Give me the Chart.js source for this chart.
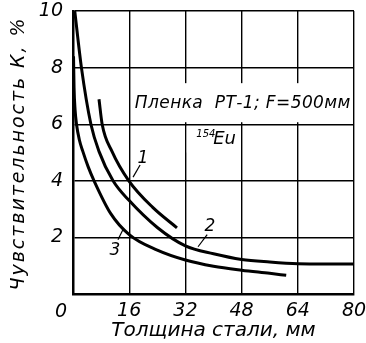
<!DOCTYPE html>
<html>
<head>
<meta charset="utf-8">
<script src="https://cdn.jsdelivr.net/npm/chart.js@4"></script>
<style>
  html, body { margin: 0; padding: 0; background: #fff; }
  #wrap { width: 366px; height: 343px; }
</style>
</head>
<body>
<div id="wrap"><canvas id="chart"></canvas></div>
<script>
// curve 1
const c1x = [7.4, 8.3, 11.1, 15.9, 22.7, 29.6];
const c1y = [6.88, 6.0, 5.04, 4.0, 3.06, 2.34];
// curve 2
const c2x = [0.5, 2.4, 5.1, 7.4, 11.4, 16, 24, 32, 40, 48, 56, 64, 72, 80];
const c2y = [10, 8, 6, 5.04, 4.0, 3.3, 2.35, 1.7, 1.42, 1.22, 1.13, 1.07, 1.06, 1.06];
// curve 3
const c3x = [0.15, 0.3, 0.6, 1.0, 1.8, 2.8, 4.3, 6.0, 10.7, 16, 24, 32, 40, 48, 56, 60.7];
const c3y = [8.4, 7.3, 6.5, 6.0, 5.45, 5.04, 4.5, 4.0, 2.85, 2.1, 1.55, 1.2, 0.98, 0.84, 0.73, 0.66];

const xTicks = [0, 16, 32, 48, 64, 80];
const yTicks = [0, 2, 4, 6, 8, 10];

// curve number labels and leader lines
const curveNames = ['1', '2', '3'];
const nameX = [19.9, 39.0, 11.9];
const nameY = [4.8, 2.37, 1.55];
const leadX1 = [17.1, 35.6, 12.8];
const leadY1 = [4.13, 1.67, 1.92];
const leadX2 = [19.1, 38.2, 14.2];
const leadY2 = [4.56, 2.1, 2.27];

const yTitle = 'Чувствительность К, %';
const filmText = 'Пленка  РТ-1; F=500мм';
const isoBase = 'Eu';
const isoMass = '154';

const FONT = "'DejaVu Sans', sans-serif";

function pts(xs, ys) {
  return xs.map((x, i) => ({x: x, y: ys[i]}));
}

const curveStyle = {
  borderColor: '#000',
  borderWidth: 3,
  pointRadius: 0,
  fill: false,
  cubicInterpolationMode: 'monotone'
};

const datasets = [
  Object.assign({data: pts(c1x, c1y)}, curveStyle),
  Object.assign({data: pts(c2x, c2y)}, curveStyle),
  Object.assign({data: pts(c3x, c3y)}, curveStyle)
];
// leader lines
curveNames.forEach((n, i) => {
  datasets.push({
    data: [{x: leadX1[i], y: leadY1[i]}, {x: leadX2[i], y: leadY2[i]}],
    borderColor: '#000', borderWidth: 1.2, pointRadius: 0, fill: false
  });
});

function fitText(ctx, text, x, y, target) {
  const w = ctx.measureText(text).width;
  ctx.letterSpacing = ((target - w) / text.length).toFixed(2) + 'px';
  ctx.fillText(text, x, y);
  ctx.letterSpacing = '0px';
}

const notes = {
  id: 'notes',
  beforeDatasetsDraw(chart) {
    const ctx = chart.ctx;
    const xs = chart.scales.x, ys = chart.scales.y;
    ctx.save();
    ctx.fillStyle = '#fff';
    // white boxes behind the texts
    let l = xs.getPixelForValue(17.4), r = xs.getPixelForValue(79.4);
    let t = ys.getPixelForValue(7.45), b = ys.getPixelForValue(6.07);
    ctx.fillRect(l, t, r - l, b - t);
    l = xs.getPixelForValue(32.4); r = xs.getPixelForValue(47.6);
    t = ys.getPixelForValue(5.93); b = ys.getPixelForValue(5.0);
    ctx.fillRect(l, t, r - l, b - t);
    ctx.restore();
  },
  afterDatasetsDraw(chart) {
    const ctx = chart.ctx;
    const xs = chart.scales.x, ys = chart.scales.y;
    ctx.save();
    ctx.fillStyle = '#000';
    ctx.textBaseline = 'middle';
    ctx.textAlign = 'left';
    // film text
    ctx.font = 'italic 17px ' + FONT;
    fitText(ctx, filmText, xs.getPixelForValue(17.6), ys.getPixelForValue(6.72), 216);
    // isotope
    ctx.font = 'italic 10px ' + FONT;
    ctx.fillText(isoMass, xs.getPixelForValue(35.1), ys.getPixelForValue(5.63));
    ctx.font = 'italic 18px ' + FONT;
    ctx.fillText(isoBase, xs.getPixelForValue(39.9), ys.getPixelForValue(5.45));
    // curve numbers
    ctx.textAlign = 'center';
    ctx.font = 'italic 17px ' + FONT;
    curveNames.forEach((n, i) => {
      ctx.fillText(n, xs.getPixelForValue(nameX[i]), ys.getPixelForValue(nameY[i]));
    });
    // x tick "0" sits left of the axis
    ctx.font = 'italic 19px ' + FONT;
    ctx.fillText('0', xs.left - 12, 312);
    // y axis title
    ctx.translate(19, (ys.top + ys.bottom) / 2 + 1);
    ctx.rotate(-Math.PI / 2);
    ctx.textAlign = 'left';
    ctx.font = 'italic 19px ' + FONT;
    fitText(ctx, yTitle, -137, 0, 274);
    ctx.restore();
  }
};

const ctx = document.getElementById('chart').getContext('2d');
const myChart = new Chart(ctx, {
  type: 'line',
  data: { datasets: datasets },
  plugins: [notes],
  options: {
    responsive: true,
    maintainAspectRatio: false,
    animation: false,
    layout: { padding: { top: 11, right: 12, left: 0, bottom: 0 } },
    plugins: { legend: { display: false }, tooltip: { enabled: false } },
    scales: {
      x: {
        type: 'linear',
        min: 0, max: 80,
        afterBuildTicks: s => { s.ticks = xTicks.map(v => ({value: v})); },
        afterFit: s => { s.height = 49; s.paddingLeft = 0; s.paddingRight = 0; },
        grid: { color: '#000', lineWidth: 1.4, drawTicks: false },
        border: { color: '#000', width: 2.5 },
        ticks: {
          color: '#000', padding: 6,
          font: { family: FONT, size: 19, style: 'italic' },
          callback: v => v === 0 ? '' : v
        },
        title: {
          display: true, text: 'Толщина стали, мм', color: '#000',
          padding: { top: 0, bottom: 0 },
          font: { family: FONT, size: 20, style: 'italic' }
        }
      },
      y: {
        min: 0, max: 10,
        afterBuildTicks: s => { s.ticks = yTicks.map(v => ({value: v})); },
        afterFit: s => { s.width = 73; s.paddingTop = 0; s.paddingBottom = 0; },
        grid: { color: '#000', lineWidth: 1.4, drawTicks: false },
        border: { color: '#000', width: 2.5 },
        ticks: {
          color: '#000', padding: 10,
          font: { family: FONT, size: 19, style: 'italic' },
          callback: v => v === 0 ? '' : v
        }
      }
    }
  }
});
</script>
</body>
</html>
